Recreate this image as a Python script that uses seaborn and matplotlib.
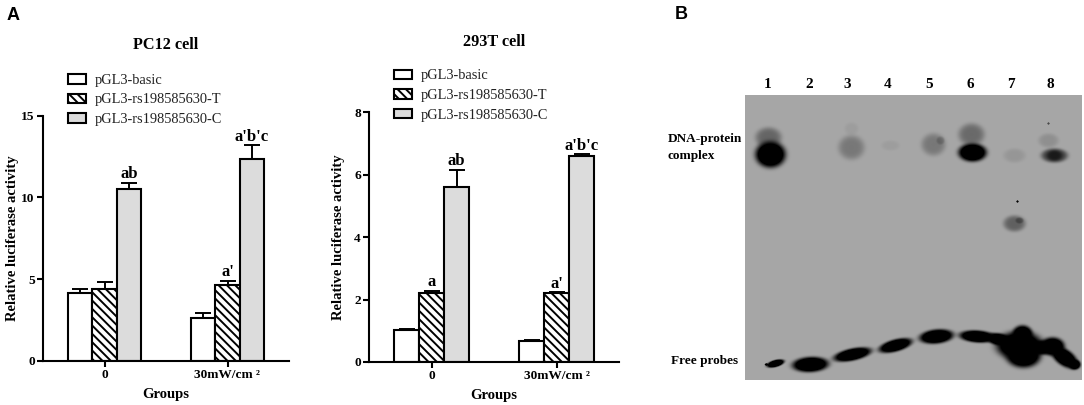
import matplotlib
matplotlib.use("Agg")
import matplotlib.pyplot as plt
import seaborn as sns
import numpy as np
import pandas as pd

W, H = 1084, 405

groups = ["0", "30mW/cm ²"]
constructs = ["pGL3-basic", "pGL3-rs198585630-T", "pGL3-rs198585630-C"]
bar_colors = ["#ffffff", "#ffffff", "#dcdcdc"]
bar_hatches = ["", "\\\\\\\\", ""]

# PC12 cell, one list per construct, [0, 30mW/cm2]
pc12_basic = [4.15, 2.62]
pc12_t = [4.41, 4.63]
pc12_c = [10.51, 12.33]
pc12_basic_err = [0.25, 0.29]
pc12_t_err = [0.43, 0.23]
pc12_c_err = [0.37, 0.85]
pc12_marks = [["", ""], ["", "a'"], ["ab", "a'b'c"]]

# 293T cell
t293_basic = [1.03, 0.67]
t293_t = [2.21, 2.20]
t293_c = [5.60, 6.61]
t293_basic_err = [0.02, 0.02]
t293_t_err = [0.07, 0.03]
t293_c_err = [0.55, 0.04]
t293_marks = [["", ""], ["a", "a'"], ["ab", "a'b'c"]]

gel_shape = (285, 337)
gel_background = 166
band_x = [25, 23, 106, 106, 145, 188, 195, 227, 226, 269, 269, 274, 272, 309, 309, 303, 303,
          30, 21, 65, 107, 150, 191, 232, 274, 278, 277, 254, 307, 295, 319, 329]
band_y = [59, 42, 52, 33, 50, 49, 45, 57, 39, 60, 128, 125, 106, 60, 60, 45, 28,
          268, 269, 269, 259, 250, 241, 241, 250, 260, 239, 244, 251, 252, 262, 269]
band_wx = [15, 13, 13, 7, 9, 12, 4, 14, 13, 11, 11, 4, 1.2, 13, 7, 10, 1.2,
           9, 1.8, 18, 19, 17, 17, 18, 23, 17, 10, 13, 12, 13, 15, 6]
band_wy = [13, 10, 12, 6, 5, 11, 4, 9, 11, 7, 8, 3, 1.2, 7, 5, 7, 1.2,
           3.5, 1.2, 7.5, 6, 6, 7, 6, 14, 12, 9, 6, 9, 7, 8, 5]
band_dark = [1.0, 0.28, 0.2, 0.04, 0.04, 0.2, 0.14, 1.0, 0.26, 0.07, 0.3, 0.22, 0.7, 0.5, 0.35, 0.1, 0.4,
             1.0, 0.8, 1.0, 1.0, 0.98, 1.0, 1.0, 1.0, 1.0, 1.0, 1.0, 1.0, 1.0, 1.0, 1.0]
band_tilt = [0, 0, 0, 0, 0, 0, 0, 0, 0, 0, 0, 0, 0, 0, 0, 0, 0,
             -15, 0, -3, -12, -15, -6, 4, 0, 0, 0, 10, 0, 0, 35, 0]

lane_labels = ["1", "2", "3", "4", "5", "6", "7", "8"]
lane_label_x = [768, 809, 847, 888, 929, 970, 1011, 1050]

sns.set_theme(style="white")
plt.rcParams["font.family"] = ["Liberation Serif", "DejaVu Serif"]
plt.rcParams["hatch.linewidth"] = 1.4


def px_axes(fig, left, top, right, bottom):
    return fig.add_axes([left / W, 1 - bottom / H, (right - left) / W, (bottom - top) / H])


def gel_image():
    rows, cols = np.mgrid[0:gel_shape[0], 0:gel_shape[1]]
    keep = np.ones(gel_shape)
    for x, y, wx, wy, dark, tilt in zip(band_x, band_y, band_wx, band_wy, band_dark, band_tilt):
        a = np.deg2rad(tilt)
        dx = cols - x
        dy = rows - y
        u = (dx * np.cos(a) + dy * np.sin(a)) / wx
        v = (-dx * np.sin(a) + dy * np.cos(a)) / wy
        # flat dark core with a quick falloff at the band edge
        keep *= 1 - np.clip(1.4 * dark * np.exp(-(u ** 2 + v ** 2) ** 2.5), 0, 1)
    return gel_background * keep


def draw_bars(ax, title, values, errors, marks, ymax, yticks, legend_x, legend_top):
    df = pd.DataFrame({
        "group": groups * 3,
        "construct": [c for c in constructs for _ in groups],
        "value": [v for series in values for v in series],
    })
    sns.barplot(data=df, x="group", y="value", hue="construct", hue_order=constructs, order=groups,
                palette=bar_colors, saturation=1, width=0.6, gap=0, errorbar=None, legend=False,
                edgecolor="black", linewidth=1.5, ax=ax)

    bar_sets = list(ax.containers)
    for i, container in enumerate(bar_sets):
        for j, bar in enumerate(container):
            bar.set_hatch(bar_hatches[i])
            x = bar.get_x() + bar.get_width() / 2
            top = bar.get_height()
            ax.errorbar(x, top, yerr=[[0], [errors[i][j]]], color="black", elinewidth=1.4, capsize=5.5,
                        capthick=1.4, zorder=1)
            if marks[i][j]:
                ax.annotate(marks[i][j], (x, top + errors[i][j]), xytext=(0, 3.5), textcoords="offset points",
                            ha="center", va="baseline", fontsize=12, fontweight="bold", color="black")

    ax.set_xlim(-0.5, 1.5)
    ax.set_ylim(0, ymax)
    ax.set_yticks(yticks)
    ax.set_title(title, fontsize=11.7, fontweight="bold", pad=48, color="black")
    ax.set_xlabel("Groups", fontsize=10.5, fontweight="bold", labelpad=5, color="black")
    ax.set_ylabel("Relative luciferase activity", fontsize=10.5, fontweight="bold", color="black")
    ax.yaxis.set_label_coords(-24 / ax.get_window_extent().width, 0.5)
    ax.tick_params(axis="both", length=4, width=1.5, color="black", labelsize=9.6, labelcolor="black",
                   left=True, bottom=True, pad=2)
    for label in ax.get_xticklabels() + ax.get_yticklabels():
        label.set_fontweight("bold")
    sns.despine(ax=ax)
    for side in ["left", "bottom"]:
        ax.spines[side].set_linewidth(1.5)
        ax.spines[side].set_color("black")

    ax.legend(bar_sets, constructs, loc="upper left", frameon=False, fontsize=10.4,
              bbox_to_anchor=(legend_x / W, 1 - legend_top / H), bbox_transform=ax.figure.transFigure,
              borderpad=0, borderaxespad=0, handlelength=1.25, handleheight=0.65, handletextpad=0.6,
              labelspacing=0.45, labelcolor="#222222")


fig = plt.figure(figsize=(W / 100, H / 100), dpi=100, facecolor="white")

ax1 = px_axes(fig, 43, 115.7, 289, 360.7)
draw_bars(ax1, "PC12 cell", [pc12_basic, pc12_t, pc12_c], [pc12_basic_err, pc12_t_err, pc12_c_err],
          pc12_marks, 15, [0, 5, 10, 15], 68, 74)

ax2 = px_axes(fig, 369.3, 112.3, 619, 362)
draw_bars(ax2, "293T cell", [t293_basic, t293_t, t293_c], [t293_basic_err, t293_t_err, t293_c_err],
          t293_marks, 8, [0, 2, 4, 6, 8], 393.5, 69.5)

ax3 = px_axes(fig, 744.7, 94.7, 1081.7, 380)
sns.heatmap(gel_image(), cmap="gray", vmin=0, vmax=255, cbar=False, xticklabels=False, yticklabels=False,
            linewidths=0, ax=ax3)

for label, x in zip(lane_labels, lane_label_x):
    fig.text(x / W, 1 - 85 / H, label, ha="center", va="center", fontsize=11, fontweight="bold", color="black")
fig.text(668 / W, 1 - 139 / H, "DNA-protein", va="center", fontsize=9.5, fontweight="bold", color="black")
fig.text(668 / W, 1 - 156 / H, "complex", va="center", fontsize=9.5, fontweight="bold", color="black")
fig.text(671 / W, 1 - 361 / H, "Free probes", va="center", fontsize=9.5, fontweight="bold", color="black")

fig.text(7 / W, 1 - 15.5 / H, "A", va="center", fontsize=13, fontweight="bold", family="Liberation Sans", color="black")
fig.text(675 / W, 1 - 14.5 / H, "B", va="center", fontsize=13, fontweight="bold", family="Liberation Sans", color="black")

fig.savefig("out.png", dpi=100)
plt.close(fig)
